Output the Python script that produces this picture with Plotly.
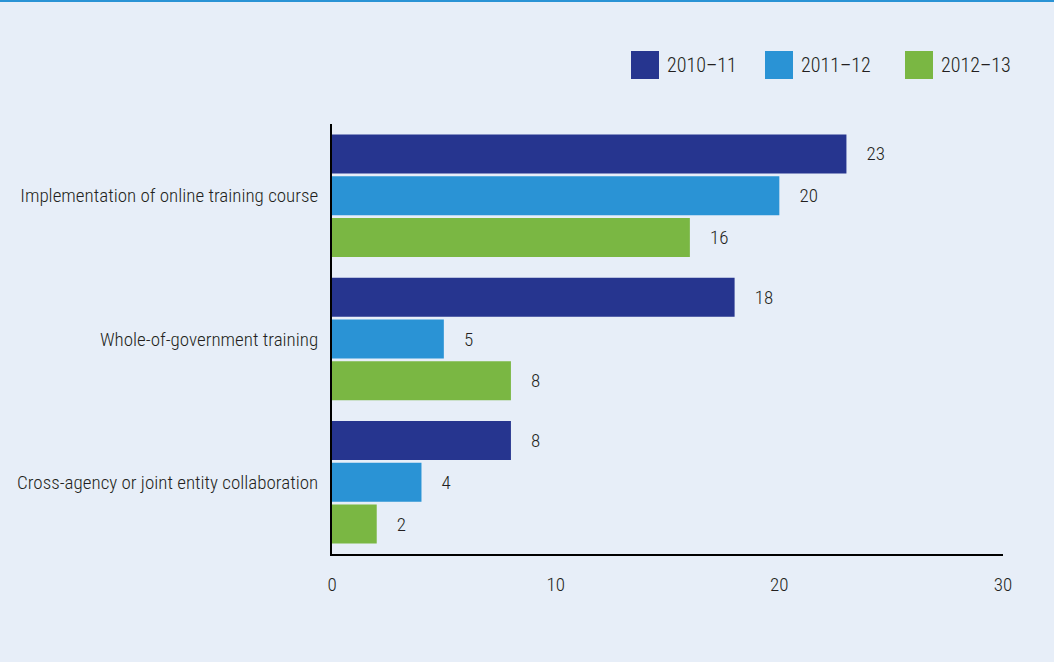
import plotly.graph_objects as go

categories = ["Implementation of online training course",
              "Whole-of-government training",
              "Cross-agency or joint entity collaboration"]
series_names = ["2010–11", "2011–12", "2012–13"]
values_2010_11 = [23, 18, 8]
values_2011_12 = [20, 5, 4]
values_2012_13 = [16, 8, 2]
series_values = [values_2010_11, values_2011_12, values_2012_13]
colors = ["#26358F", "#2A93D5", "#7AB743"]
x_ticks = [0, 10, 20, 30]

FONT = "Roboto Condensed, sans-serif"
TXT = "#231F20"
W, H = 1054, 662
ML, MR, MT, MB = 332, 51, 124, 108
PW, PH = W - ML - MR, H - MT - MB

def fnt(size=19):
    return dict(family=FONT, size=size, color=TXT, weight=300)

fig = go.Figure()
for name, vals, col in zip(series_names, series_values, colors):
    fig.add_trace(go.Bar(
        y=categories, x=vals, name=name, orientation="h",
        marker=dict(color=col, line=dict(width=0)),
        text=vals, texttemplate="\u00a0\u00a0\u00a0\u00a0%{x}", textposition="outside",
        textfont=fnt(),
        cliponaxis=False, showlegend=False,
    ))

def px_x(p):
    return (p - ML) / PW

def px_y(p):
    return 1 + (MT - p) / PH

shapes = [dict(type="rect", xref="paper", yref="paper",
               x0=px_x(0), x1=px_x(W), y0=px_y(2), y1=px_y(0),
               fillcolor="#2A93D5", line=dict(width=0))]
annotations = []
legend_x = [631, 765, 905]
for lx, name, col in zip(legend_x, series_names, colors):
    shapes.append(dict(type="rect", xref="paper", yref="paper",
                       x0=px_x(lx), x1=px_x(lx + 28), y0=px_y(79), y1=px_y(51),
                       fillcolor=col, line=dict(width=0)))
    annotations.append(dict(xref="paper", yref="paper", x=px_x(lx + 34), y=px_y(65),
                            xanchor="left", yanchor="middle", text=name, showarrow=False,
                            font=fnt(20)))

fig.update_layout(
    width=W, height=H,
    margin=dict(l=ML, r=MR, t=MT, b=MB, pad=0, autoexpand=False),
    paper_bgcolor="#E7EEF8", plot_bgcolor="#E7EEF8",
    barmode="group", bargap=0.126, bargroupgap=0.065,
    font=fnt(), showlegend=False,
    shapes=shapes, annotations=annotations,
    xaxis=dict(range=[0, 30], tickvals=x_ticks, showgrid=False, zeroline=False,
               automargin=False,
               showline=True, linecolor="#000", linewidth=2,
               ticks="outside", ticklen=12, tickcolor="rgba(0,0,0,0)",
               tickfont=fnt()),
    yaxis=dict(categoryorder="array", categoryarray=categories, autorange="reversed",
               automargin=False,
               showgrid=False, zeroline=False, showline=True, linecolor="#000", linewidth=2,
               ticks="outside", ticklen=8, tickcolor="rgba(0,0,0,0)",
               tickfont=fnt()),
)

fig.write_html("out.html")
